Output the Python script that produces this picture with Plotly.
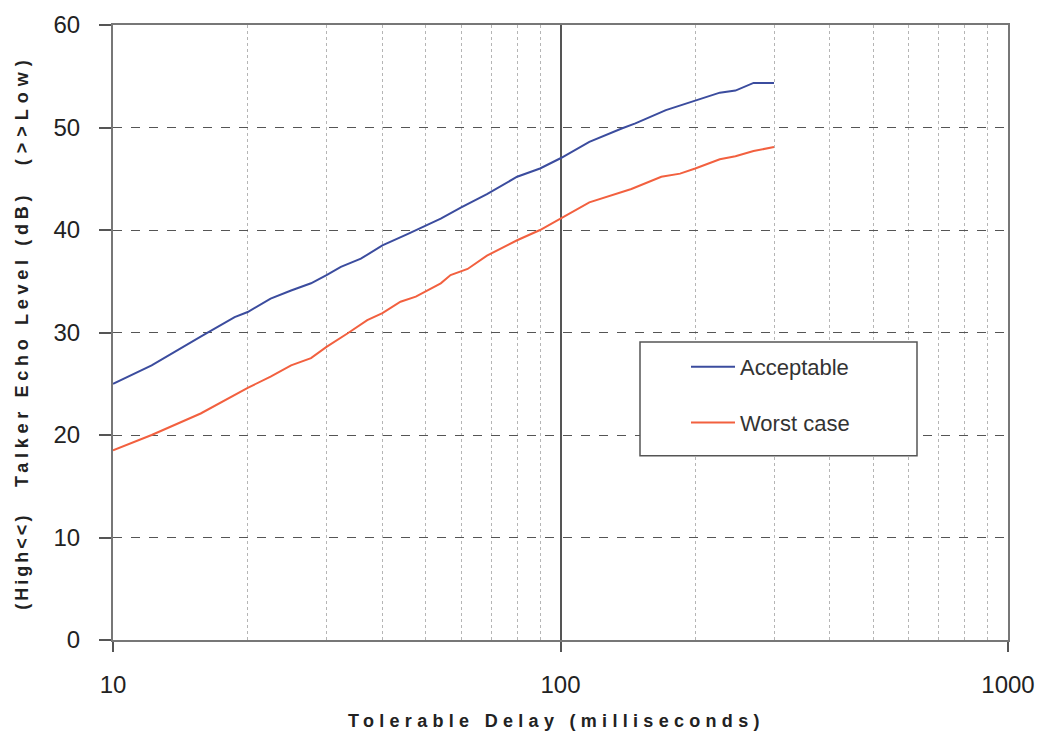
import plotly.graph_objects as go

# ---- data ----
acc_delay = [10, 12.2, 15.7, 18.7, 20, 22.5, 25, 27.7, 30, 32.3, 35.8, 40, 45.5, 50, 54,
             60, 68.5, 80, 90, 100, 116, 137, 147, 172, 200, 227, 246, 270, 300]
acc_level = [25.0, 26.8, 29.6, 31.5, 32.0, 33.3, 34.1, 34.8, 35.6, 36.4, 37.2, 38.5, 39.6, 40.4, 41.1,
             42.2, 43.5, 45.2, 46.0, 47.0, 48.6, 49.9, 50.4, 51.7, 52.6, 53.4, 53.6, 54.35, 54.35]

worst_delay = [10, 12.2, 15.7, 20, 22.5, 25, 27.7, 30, 33.4, 37, 40, 43.9, 47.5, 54, 56.8,
               62, 68.5, 80, 90, 100, 116, 144, 168, 185, 200, 227, 246, 270, 300]
worst_level = [18.5, 20.0, 22.1, 24.6, 25.7, 26.8, 27.5, 28.6, 29.9, 31.2, 31.9, 33.0, 33.5, 34.8, 35.6,
               36.2, 37.5, 39.0, 40.0, 41.1, 42.7, 44.0, 45.2, 45.5, 46.0, 46.9, 47.2, 47.7, 48.1]

series_names = ["Acceptable", "Worst case"]
x_tick_vals = [10, 100, 1000]
x_tick_text = ["10", "100", "1000"]
minor_x = [20, 30, 40, 50, 60, 70, 80, 90, 200, 300, 400, 500, 600, 700, 800, 900]
y_tick_vals = [0, 10, 20, 30, 40, 50, 60]

x_title = "Tolerable Delay (milliseconds)"
y_title_parts = ["(High<<)", "Talker Echo Level (dB)", "(>>Low)"]

FONT = "Liberation Sans, Arial, sans-serif"

# page body has an 8px margin, so the figure is laid out 8px smaller
OFF = 8
W, H = 1043 - OFF, 738 - OFF
PL, PR, PT, PB = 113, 1008, 24.5, 640.5  # plot area in page pixels


def px(xp):
    return (xp - PL) / (PR - PL)


def py(yp):
    return (PB - yp) / (PB - PT)


def spaced(t, sp):
    return '<span style="letter-spacing:%spx">%s</span>' % (sp, t)


fig = go.Figure()
fig.add_trace(go.Scatter(x=acc_delay, y=acc_level, mode="lines", name=series_names[0],
                         legendgroup="a", line=dict(color="#3b4c9e", width=2)))
fig.add_trace(go.Scatter(x=worst_delay, y=worst_level, mode="lines", name=series_names[1],
                         legendgroup="b", line=dict(color="#f2603f", width=2)))

fig.update_layout(
    width=W, height=H,
    margin=dict(l=PL - OFF, r=W + OFF - PR, t=PT - OFF, b=H + OFF - PB),
    paper_bgcolor="white", plot_bgcolor="white",
    font=dict(family=FONT, color="#222"),
    showlegend=True,
    legend=dict(
        x=px(686), y=py(346), xanchor="left", yanchor="top",
        bgcolor="rgba(0,0,0,0)", borderwidth=0,
        font=dict(size=22, color="#333", family=FONT),
        traceorder="grouped", tracegroupgap=24,
        itemwidth=44, indentation=0,
    ),
    shapes=[dict(type="rect", xref="paper", yref="paper",
                 x0=px(640), x1=px(917), y0=py(456), y1=py(342),
                 line=dict(color="#555", width=1.5), fillcolor="white", layer="above")],
)

fig.update_xaxes(
    type="log", range=[1, 3], automargin=False,
    tickvals=x_tick_vals, ticktext=x_tick_text,
    tickfont=dict(size=24, color="#222"),
    ticks="outside", ticklen=10, tickwidth=1.5, tickcolor="#555",
    ticklabelstandoff=12,
    showline=True, linecolor="#777", linewidth=2, mirror=True,
    showgrid=True, gridcolor="#555", gridwidth=1.5,
    minor=dict(tickvals=minor_x, showgrid=True, gridcolor="#b5b5b5",
               griddash="dot", gridwidth=1, ticks=""),
    zeroline=False,
)
fig.update_yaxes(
    range=[0, 60], tickvals=y_tick_vals, automargin=False,
    tickfont=dict(size=24, color="#222"),
    ticks="outside", ticklen=12, tickwidth=1.5, tickcolor="#555",
    ticklabelstandoff=14,
    showline=True, linecolor="#777", linewidth=2, mirror=True,
    showgrid=True, gridcolor="#555", gridwidth=1, griddash="dash",
    zeroline=False,
)

# axis titles
fig.add_annotation(text="<b>" + spaced(x_title, 5.3) + "</b>", xref="paper", yref="paper",
                   x=px(556), y=py(722), xanchor="center", yanchor="middle", showarrow=False,
                   font=dict(size=18, color="#222", family=FONT))
y_title_pos = [562, 339, 110]
y_title_sp = [3, 4.7, 6]
for part, ypx, sp in zip(y_title_parts, y_title_pos, y_title_sp):
    fig.add_annotation(text="<b>" + spaced(part, sp) + "</b>", xref="paper", yref="paper",
                       x=px(22), y=py(ypx),
                       xanchor="center", yanchor="middle", textangle=-90, showarrow=False,
                       font=dict(size=18, color="#222", family=FONT))

fig.write_html("out.html")
